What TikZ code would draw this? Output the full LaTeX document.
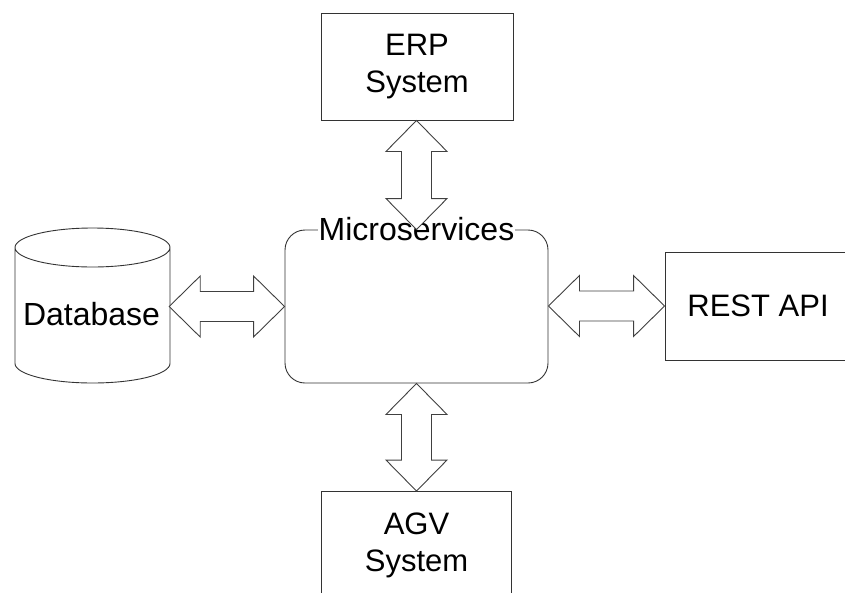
\documentclass[tikz,border=0pt]{standalone}
\usepackage{fontspec}
\setmainfont{Liberation Sans}
\usetikzlibrary{calc}

\tikzset{
  box/.style={draw=black!80, line width=0.9pt, fill=white, align=center,
    font=\fontsize{31}{37}\selectfont},
  fatline/.style={draw=black!75, line width=0.9pt, fill=white, line join=miter},
}

% hollow double arrows, head length 31, head half 30.5, shaft half 15
\newcommand\fatvlink[2]{%
  \draw[fatline] let \p1=(#1), \p2=(#2) in
    (\x2,\y1) -- (\x2-30.5pt,\y1-31pt) -- (\x2-15pt,\y1-31pt) -- (\x2-15pt,\y2+31pt)
    -- (\x2-30.5pt,\y2+31pt) -- (\p2) -- (\x2+30.5pt,\y2+31pt) -- (\x2+15pt,\y2+31pt)
    -- (\x2+15pt,\y1-31pt) -- (\x2+30.5pt,\y1-31pt) -- cycle;}
\newcommand\fathlink[2]{%
  \draw[fatline] let \p1=(#1), \p2=(#2) in
    (\x1,\y2) -- (\x1+31pt,\y2+30.5pt) -- (\x1+31pt,\y2+15pt) -- (\x2-31pt,\y2+15pt)
    -- (\x2-31pt,\y2+30.5pt) -- (\p2) -- (\x2-31pt,\y2-30.5pt) -- (\x2-31pt,\y2-15pt)
    -- (\x1+31pt,\y2-15pt) -- (\x1+31pt,\y2-30.5pt) -- cycle;}

\begin{document}
\begin{tikzpicture}[x=1pt, y=-1pt]
  \useasboundingbox (0,0) rectangle (845,592);
  \clip (0,0) rectangle (845,592);

    % Draw the blocks
  \node[box, minimum width=192pt, minimum height=107pt] (erp) at (417,66.5) {ERP\\System};
  \node[box, rounded corners=20pt, minimum width=263pt, minimum height=153pt] (ms) at (416.5,306.5) {};
  \node[box, minimum width=186pt, minimum height=108pt] (rest) at (758,306) {REST API};
  \node[box, minimum width=190pt, minimum height=108pt] (agv) at (416.5,545.5) {AGV\\System};

    % Draw the database
  \draw[draw=black!80, line width=0.9pt] (15,247.5) -- (15,363.5)
    arc[start angle=180, end angle=360, x radius=77.5pt, y radius=19.5pt]
    -- (170,247.5) arc[start angle=0, end angle=180, x radius=77.5pt, y radius=19.5pt]
    arc[start angle=180, end angle=360, x radius=77.5pt, y radius=19.5pt];
  \node[font=\fontsize{32}{38}\selectfont, minimum width=155pt, inner sep=0pt] (db) at (91.5,314) {Database};

    % Label on the microservices block
  \node[fill=white, inner sep=1pt, font=\fontsize{32}{38}\selectfont] (mslabel) at (ms.north) {Microservices};

    % Draw the links
  \fatvlink{erp.south}{ms.north}
  \fatvlink{ms.south}{agv.north}
  \fathlink{db.east}{ms.west}
  \fathlink{ms.east}{rest.west}
\end{tikzpicture}
\end{document}
